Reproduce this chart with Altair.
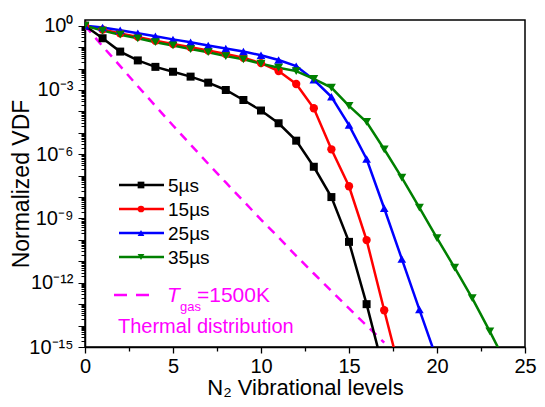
import altair as alt
import pandas as pd

# ---- data ----
series_names = ["5µs", "15µs", "25µs", "35µs"]
series_colors = ["#000000", "#FF0000", "#0000FF", "#008000"]
series_shapes = ["square", "circle", "triangle-up", "triangle-down"]

vdf_5us = [1.0, 2.6e-1, 6.2e-2, 2.4e-2, 1.2e-2, 7.1e-3, 4.2e-3, 2.2e-3, 1.0e-3,
           3.4e-4, 1.1e-4, 2.8e-5, 4.3e-6, 2.6e-7, 1.0e-8, 8.1e-11, 1.0e-13, 6.3e-17]
vdf_15us = [1.0, 6.6e-1, 4.4e-1, 3.0e-1, 2.0e-1, 1.4e-1, 9.8e-2, 6.9e-2, 4.8e-2,
            3.2e-2, 1.8e-2, 7.6e-3, 1.9e-3, 1.4e-4, 1.7e-6, 3.2e-8, 9.8e-11, 5.2e-14, 3.2e-17]
vdf_25us = [1.0, 8.3e-1, 6.2e-1, 4.5e-1, 3.2e-1, 2.3e-1, 1.7e-1, 1.2e-1, 8.7e-2,
            6.2e-2, 4.2e-2, 2.5e-2, 1.3e-2, 3.0e-3, 4.8e-4, 2.3e-5, 6.0e-7, 3.0e-9,
            1.3e-11, 5.6e-14, 2.5e-16]
vdf_35us = [1.0, 5.9e-1, 3.8e-1, 2.6e-1, 1.7e-1, 1.2e-1, 8.1e-2, 5.8e-2, 3.8e-2,
            2.7e-2, 1.7e-2, 1.1e-2, 7.6e-3, 3.3e-3, 1.3e-3, 1.8e-4, 3.2e-5, 1.7e-6,
            8.1e-8, 3.2e-9, 1.2e-10, 5.1e-12, 1.9e-13, 5.4e-15, 1.3e-16]
vdf_thermal = [1.0, 1.1e-1, 1.3e-2, 1.5e-3, 1.8e-4, 2.2e-5, 2.8e-6, 3.6e-7, 4.8e-8,
               6.5e-9, 8.9e-10, 1.3e-10, 1.8e-11, 2.7e-12, 4.1e-13, 6.3e-14, 1.0e-14, 1.6e-15]

x_ticks = [0, 5, 10, 15, 20, 25]
x_minor = [2.5, 7.5, 12.5, 17.5, 22.5]
y_labeled = [1.0, 1e-3, 1e-6, 1e-9, 1e-12, 1e-15]
y_label_text = ["10⁰", "10⁻³", "10⁻⁶", "10⁻⁹", "10⁻¹²", "10⁻¹⁵"]
decade_exps = list(range(-15, 1))
minor_mults = [2, 3, 4, 5, 6, 7, 8, 9]

# ---- build tables ----
rows = []
for name, vals in zip(series_names, [vdf_5us, vdf_15us, vdf_25us, vdf_35us]):
    for lvl, v in enumerate(vals):
        rows.append({"level": lvl, "vdf": v, "series": name})
df = pd.DataFrame(rows)
thermal_df = pd.DataFrame({"level": list(range(len(vdf_thermal))), "vdf": vdf_thermal})

y_tick_values = []
for e in decade_exps:
    y_tick_values.append(float(f"1e{e}"))
    if e < 0:
        for m in minor_mults:
            y_tick_values.append(float(f"{m}e{e}"))

label_expr = ""
for v, t in zip(y_labeled, y_label_text):
    label_expr += f"datum.value == {v!r} ? '{t}' : "
label_expr += "''"

FONT = "Liberation Sans"
W, H = 440, 327
PAD_L, PAD_T = 77, 12
SVG_W, SVG_H = 529, 391

xscale = alt.Scale(domain=[0, 25], nice=False, zero=False)
yscale = alt.Scale(type="log", domain=[1e-15, 1.85], nice=False)

x_axis = alt.Axis(values=x_ticks + x_minor, title="N₂ Vibrational levels",
                  labelExpr="datum.value % 5 == 0 ? toString(datum.value) : ''",
                  tickSize={"condition": {"test": "datum.value % 5 == 0", "value": 6}, "value": 4},
                  grid=False, labelFontSize=20, titleFontSize=22, labelFont=FONT,
                  titleFont=FONT, titleFontWeight="normal", labelPadding=3,
                  titleY=47, titleBaseline="alphabetic",
                  domainColor="black", tickColor="black", labelColor="black",
                  titleColor="black", domainWidth=1.5, tickWidth=1.3, labelFlush=False,
                  labelOverlap=False, labelBound=False)
y_axis = alt.Axis(values=y_tick_values, title="Normalized VDF", labelExpr=label_expr,
                  tickSize={"condition": {"test": "abs(log(datum.value)/LN10 - round(log(datum.value)/LN10)) < 1e-6",
                                          "value": 7}, "value": 4},
                  grid=False, labelFontSize=20, titleFontSize=23, labelFont=FONT,
                  titleFont=FONT, titleFontWeight="normal", labelPadding=5,
                  titleX=-52, titleBaseline="bottom",
                  domainColor="black", tickColor="black", labelColor="black",
                  titleColor="black", domainWidth=1.5, tickWidth=1.0, labelFlush=False,
                  labelOverlap=False, labelBound=False)

thermal = alt.Chart(thermal_df).mark_line(color="#FF00FF", strokeWidth=2.5,
                                         strokeDash=[9, 7], clip=True).encode(
    x=alt.X("level:Q", scale=xscale, axis=x_axis),
    y=alt.Y("vdf:Q", scale=yscale, axis=y_axis),
)

color_scale = alt.Scale(domain=series_names, range=series_colors)
shape_scale = alt.Scale(domain=series_names, range=series_shapes)

lines = alt.Chart(df).mark_line(strokeWidth=2.5, clip=True).encode(
    x=alt.X("level:Q", scale=xscale),
    y=alt.Y("vdf:Q", scale=yscale),
    color=alt.Color("series:N", scale=color_scale, legend=None),
    detail="series:N",
)
points = alt.Chart(df).mark_point(filled=True, opacity=1, clip=True).encode(
    x=alt.X("level:Q", scale=xscale),
    y=alt.Y("vdf:Q", scale=yscale),
    color=alt.Color("series:N", scale=color_scale, legend=None),
    shape=alt.Shape("series:N", scale=shape_scale, legend=None),
    size=alt.Size("series:N", scale=alt.Scale(domain=series_names, range=[64, 80, 95, 95]),
                  legend=None),
)

one = alt.Data(values=[{}])
legend_layers = []
for i, (name, col, shp) in enumerate(zip(series_names, series_colors, series_shapes)):
    yy = 165 + 24 * i
    legend_layers.append(alt.Chart(one).mark_rule(color=col, strokeWidth=2.5).encode(
        x=alt.value(34), x2=alt.value(79), y=alt.value(yy)))
    legend_layers.append(alt.Chart(one).mark_point(color=col, filled=True, opacity=1,
                                                   shape=shp, size=45).encode(
        x=alt.value(56), y=alt.value(yy)))
    legend_layers.append(alt.Chart(one).mark_text(text=name, font=FONT, fontSize=19,
                                                  align="left", baseline="middle",
                                                  color="black").encode(
        x=alt.value(83), y=alt.value(yy + 1)))

legend_layers.append(alt.Chart(one).mark_rule(color="#FF00FF", strokeWidth=2.5,
                                              strokeDash=[13, 9]).encode(
    x=alt.value(29), x2=alt.value(64), y=alt.value(275)))
legend_layers.append(alt.Chart(one).mark_text(text="T", font=FONT, fontSize=21,
                                              fontStyle="italic", align="left",
                                              baseline="middle", color="#FF00FF").encode(
    x=alt.value(82), y=alt.value(276)))
legend_layers.append(alt.Chart(one).mark_text(text="gas", font=FONT, fontSize=13,
                                              align="left", baseline="middle",
                                              color="#FF00FF").encode(
    x=alt.value(95), y=alt.value(287)))
legend_layers.append(alt.Chart(one).mark_text(text="=1500K", font=FONT, fontSize=21,
                                              align="left", baseline="middle",
                                              color="#FF00FF").encode(
    x=alt.value(112), y=alt.value(276)))
legend_layers.append(alt.Chart(one).mark_text(text="Thermal distribution", font=FONT,
                                              fontSize=20, align="left", baseline="middle",
                                              color="#FF00FF").encode(
    x=alt.value(33), y=alt.value(307)))

chart = alt.layer(thermal, lines, points, *legend_layers).properties(
    width=W, height=H,
    autosize=alt.AutoSizeParams(type="none"),
    padding={"left": PAD_L, "top": PAD_T, "right": SVG_W - PAD_L - W,
             "bottom": SVG_H - PAD_T - H},
    background="white",
).configure_view(stroke="black", strokeWidth=1.5)

chart.save("out.html", embed_options={"renderer": "svg", "actions": False})
